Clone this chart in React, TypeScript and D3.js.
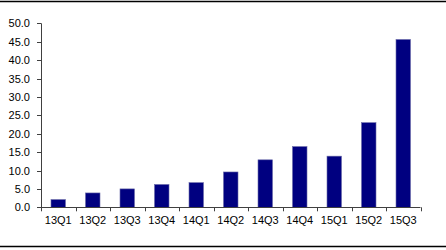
import React from "react";
import * as d3 from "d3";

const categories = ["13Q1","13Q2","13Q3","13Q4","14Q1","14Q2","14Q3","14Q4","15Q1","15Q2","15Q3"];
const values = [2.1, 3.9, 5.0, 6.2, 6.7, 9.6, 12.9, 16.5, 13.9, 23.0, 45.6];
const yTicks = [0,5,10,15,20,25,30,35,40,45,50];

export default function App() {
  const W = 446, H = 250;
  const x0 = 41, x1 = 420.5, y0 = 207.3, y1 = 23.3;
  const x = d3.scaleBand<string>().domain(categories).range([x0, x1]).paddingInner(0).paddingOuter(0);
  const y = d3.scaleLinear().domain([0, 50]).range([y0, y1]);
  const bw = x.bandwidth() * 0.42;
  const font = "Arial, 'Liberation Sans', sans-serif";
  return (
    <svg width={W} height={H} style={{ position: "absolute", left: 0, top: 0 }}>
      <rect x={0} y={0} width={W} height={H} fill="#fff" />
      <line x1={0} x2={W} y1={1.5} y2={1.5} stroke="#000" strokeWidth={1.5} />
      <line x1={0} x2={W} y1={246.5} y2={246.5} stroke="#000" strokeWidth={1.5} />
      {categories.map((c, i) => {
        const cx = (x(c) as number) + x.bandwidth() / 2;
        return (
          <rect key={c} x={cx - bw / 2} y={y(values[i])} width={bw} height={y0 - y(values[i])}
            fill="#000080" stroke="#6a6aa8" strokeWidth={0.6} />
        );
      })}
      <line x1={x0 + 0.5} x2={x0 + 0.5} y1={y1} y2={y0} stroke="#404040" strokeWidth={1} />
      {yTicks.map(t => (
        <g key={t}>
          <line x1={x0 - 4} x2={x0} y1={Math.round(y(t)) + 0.5} y2={Math.round(y(t)) + 0.5} stroke="#404040" />
          <text x={30} y={y(t) + 4} textAnchor="end" fontFamily={font} fontSize={11} fill="#000">{t.toFixed(1)}</text>
        </g>
      ))}
      <line x1={x0} x2={x1} y1={y0 + 0.2} y2={y0 + 0.2} stroke="#404040" strokeWidth={1} />
      {categories.concat(["_end"]).map((c, i) => {
        const tx = Math.round(x0 + i * x.bandwidth()) + 0.5;
        return <line key={c} x1={tx} x2={tx} y1={y0} y2={y0 + 4} stroke="#404040" />;
      })}
      {categories.map(c => (
        <text key={c} x={(x(c) as number) + x.bandwidth() / 2} y={224} textAnchor="middle"
          fontFamily={font} fontSize={11} fill="#000">{c}</text>
      ))}
    </svg>
  );
}
